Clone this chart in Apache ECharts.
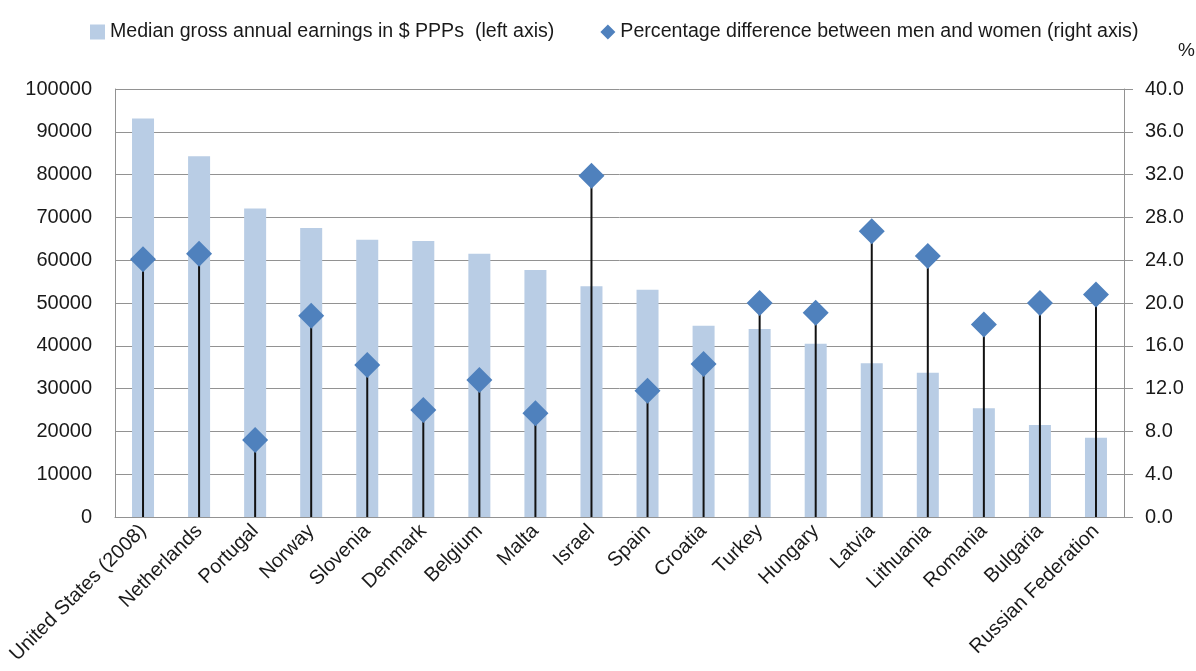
<!DOCTYPE html>
<html>
<head>
<meta charset="utf-8">
<script src="https://cdn.jsdelivr.net/npm/echarts@6/dist/echarts.min.js"></script>
<style>
html,body{margin:0;padding:0;background:#fff;}
#chart{width:1196px;height:671px;}
</style>
</head>
<body>
<div id="chart"></div>
<script>
const categories = ['United States (2008)','Netherlands','Portugal','Norway','Slovenia','Denmark','Belgium','Malta','Israel','Spain','Croatia','Turkey','Hungary','Latvia','Lithuania','Romania','Bulgaria','Russian Federation'];
const earnings = [93100, 84300, 72100, 67500, 64800, 64500, 61500, 57700, 53900, 53100, 44700, 43900, 40500, 35900, 33700, 25400, 21500, 18500];
const pctDiff = [24.1, 24.6, 7.2, 18.8, 14.2, 10.0, 12.8, 9.7, 31.9, 11.8, 14.3, 20.0, 19.1, 26.7, 24.4, 18.0, 20.0, 20.8];
const leftTicks = {min: 0, max: 100000, interval: 10000};
const rightTicks = {min: 0, max: 40, interval: 4};
const nameBars = 'Median gross annual earnings in $ PPPs  (left axis)';
const namePct = 'Percentage difference between men and women (right axis)';

const font = "'Liberation Sans', Arial, sans-serif";
const txt = '#1a1a1a';
const grey = '#929292';
const chart = echarts.init(document.getElementById('chart'), null, {renderer: 'canvas'});
chart.setOption({
  backgroundColor: '#fff',
  animation: false,
  textStyle: {fontFamily: font, color: txt},
  legend: {
    data: [{name: nameBars, icon: 'rect'}, {name: namePct, icon: 'diamond'}],
    top: 17, left: 85,
    itemWidth: 15, itemHeight: 15, itemGap: 46,
    textStyle: {fontFamily: font, fontSize: 19.6, color: txt}
  },
  graphic: [{type: 'text', left: 1178, top: 41, style: {text: '%', fontFamily: font, fontSize: 19, fill: txt}}],
  grid: {left: 115, right: 72, top: 89, bottom: 154},
  xAxis: [{
    type: 'category', data: categories,
    axisLine: {show: true, lineStyle: {color: grey, width: 1}},
    axisTick: {show: false},
    axisLabel: {rotate: 45, interval: 0, fontFamily: font, fontSize: 20, color: txt, margin: 11}
  }, {
    type: 'category', data: categories, show: false
  }],
  yAxis: [{
    type: 'value', min: leftTicks.min, max: leftTicks.max, interval: leftTicks.interval,
    axisLine: {show: true, lineStyle: {color: grey, width: 1}},
    axisTick: {show: false},
    splitLine: {show: true, lineStyle: {color: grey, width: 1}},
    axisLabel: {fontFamily: font, fontSize: 20, color: txt, margin: 23, formatter: v => String(v)}
  }, {
    type: 'value', min: rightTicks.min, max: rightTicks.max, interval: rightTicks.interval,
    position: 'right',
    axisLine: {show: true, lineStyle: {color: grey, width: 1}},
    axisTick: {show: true, length: 9, lineStyle: {color: grey}},
    splitLine: {show: false},
    axisLabel: {fontFamily: font, fontSize: 20, color: txt, margin: 21, formatter: v => v.toFixed(1)}
  }],
  series: [{
    name: nameBars, type: 'bar', xAxisIndex: 0, yAxisIndex: 0,
    data: earnings, barWidth: 22, itemStyle: {color: '#B9CDE5'}, z: 2
  }, {
    name: 'stem', type: 'bar', xAxisIndex: 1, yAxisIndex: 1,
    data: pctDiff, barWidth: 2, itemStyle: {color: '#111'}, z: 3
  }, {
    name: namePct, type: 'scatter', xAxisIndex: 1, yAxisIndex: 1,
    data: pctDiff, symbol: 'diamond', symbolSize: 26, itemStyle: {color: '#4F81BD', opacity: 1}, z: 4
  }]
});
</script>
</body>
</html>
